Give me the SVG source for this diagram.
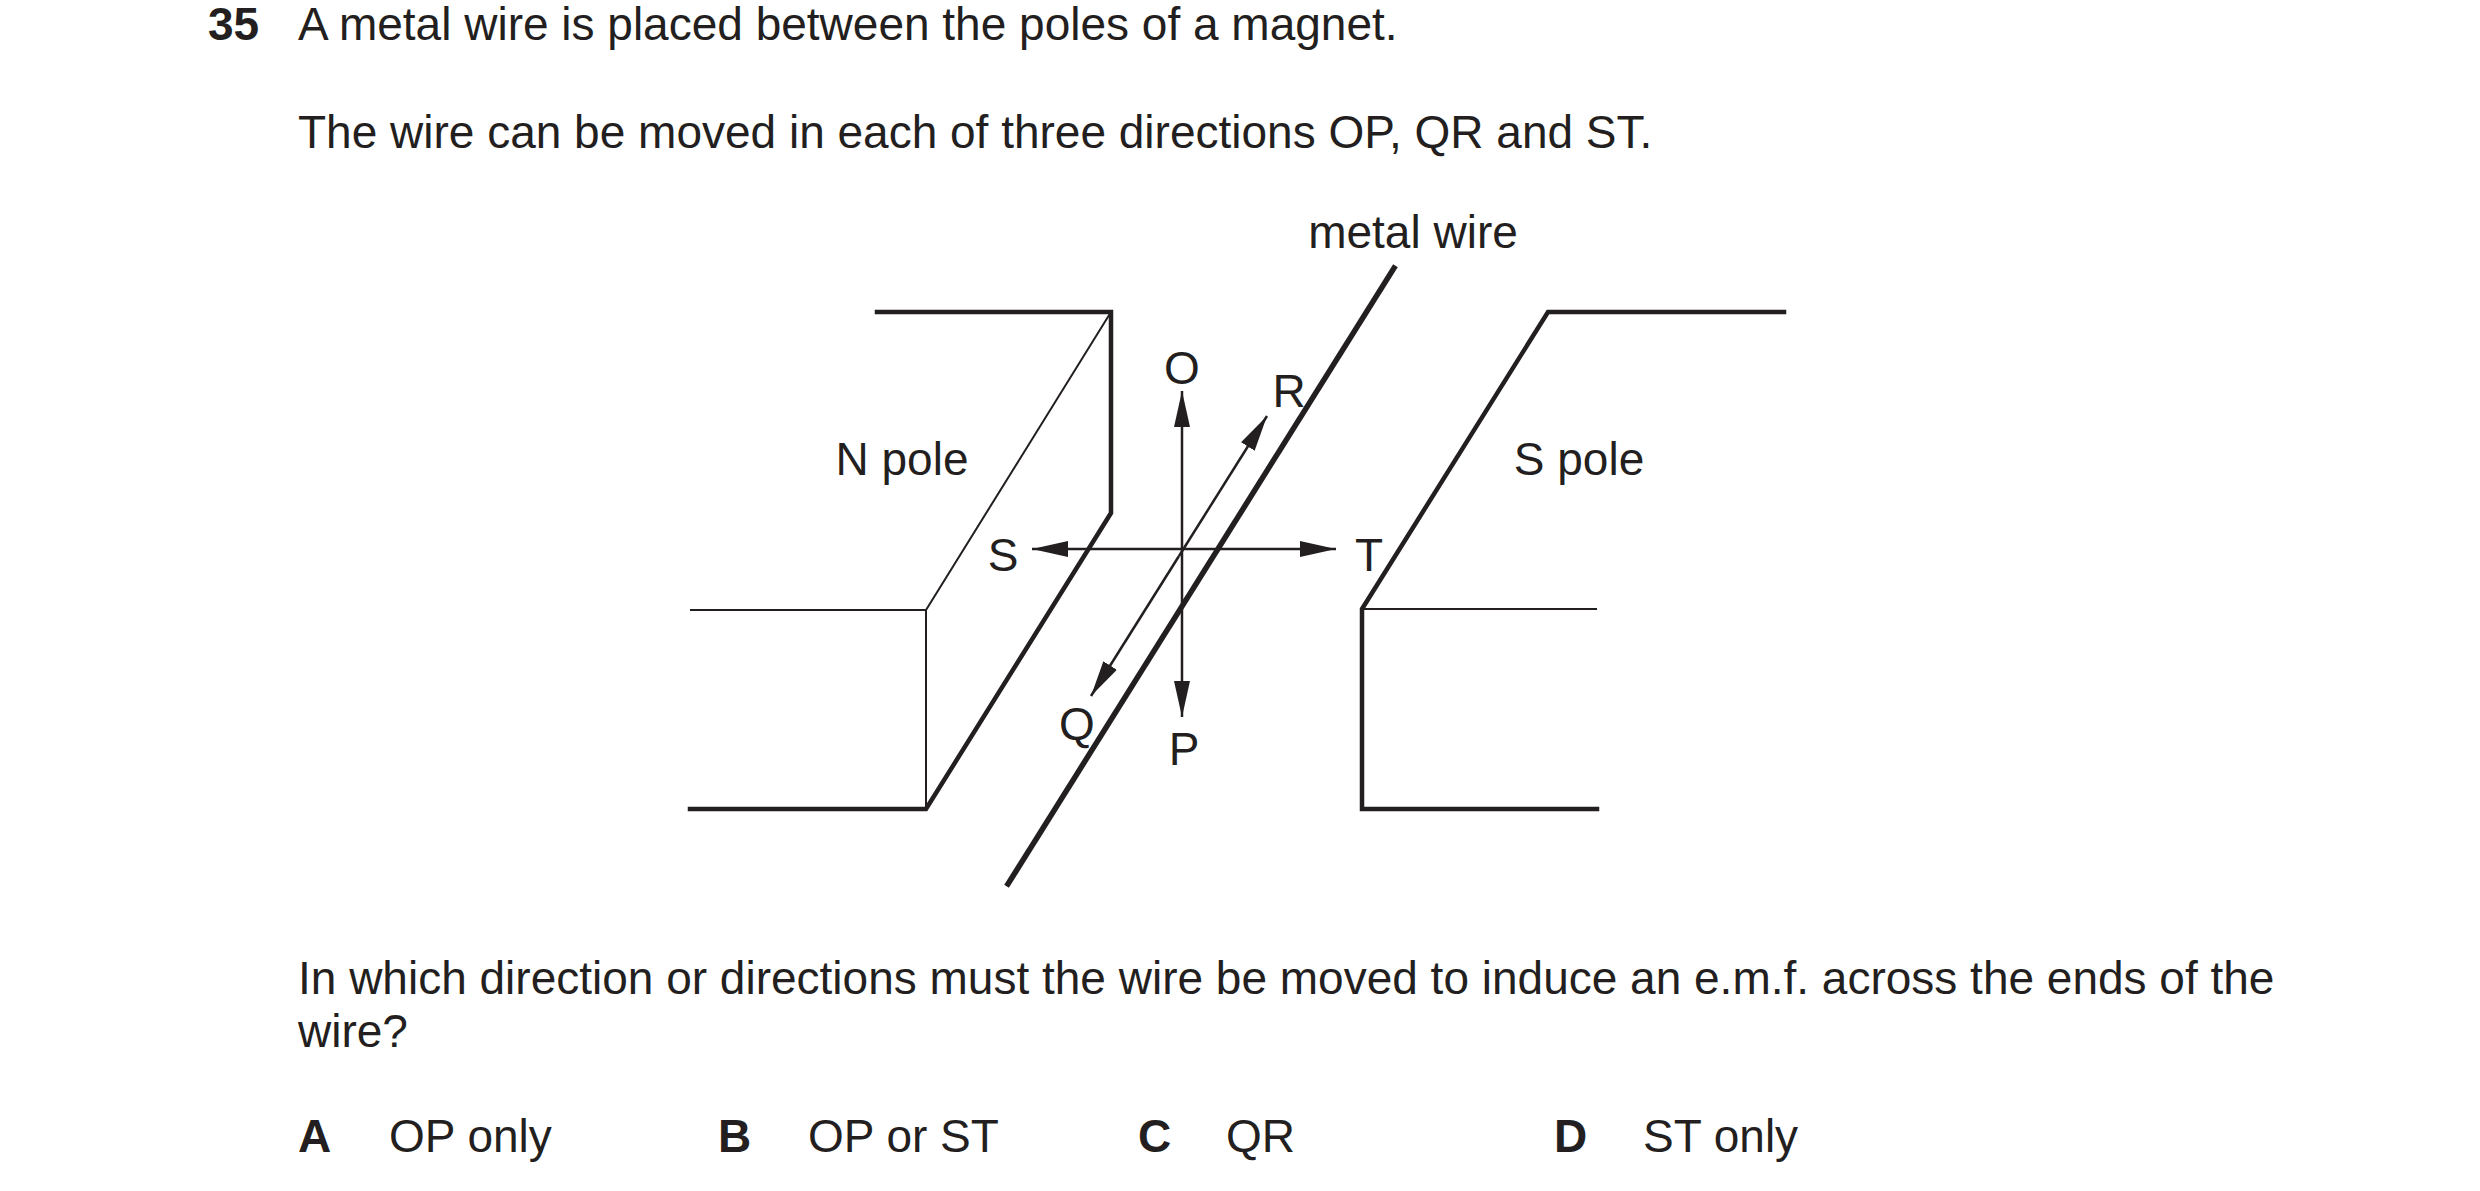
<svg xmlns="http://www.w3.org/2000/svg" width="2480" height="1191" viewBox="0 0 2480 1191">
<style>
text{font-family:"Liberation Sans",Arial,sans-serif;font-size:46px;fill:#231f20}
.b{font-weight:bold}
.lbl{font-size:46px}
.thick{stroke:#231f20;stroke-width:4.5;fill:none;stroke-linecap:square}
.thin{stroke:#231f20;stroke-width:2;fill:none}
.arr{stroke:#231f20;stroke-width:2.5;fill:none;marker-end:url(#ah)}
</style>
<defs>
<marker id="ah" markerUnits="userSpaceOnUse" markerWidth="36" markerHeight="20" viewBox="0 0 36 20" refX="36" refY="10" orient="auto">
<path d="M0,2 L36,10 L0,18 Z" fill="#231f20"/>
</marker>
</defs>
<rect width="2480" height="1191" fill="#fff"/>
<text class="b" x="208" y="40">35</text>
<text x="298" y="40">A metal wire is placed between the poles of a magnet.</text>
<text x="298" y="148">The wire can be moved in each of three directions OP, QR and ST.</text>
<g transform="translate(-3,-6)">
<g id="n-magnet">
<path class="thick" d="M880,318 L1114,318 L1114,519 L929,815 L693,815"/>
<path class="thin" d="M1114,318 L929,616 L693,616 M929,616 L929,815"/>
<text class="lbl" x="905" y="481" text-anchor="middle">N pole</text>
</g>
<g id="s-magnet" transform="translate(-10,0)">
<path class="thick" d="M1797,318 L1561,318 L1375,615 L1375,815 L1610,815"/>
<path class="thin" d="M1375,615 L1610,615"/>
<text class="lbl" x="1592" y="481" text-anchor="middle">S pole</text>
</g>
<g id="wire">
<line class="thick" x1="1397" y1="274" x2="1011" y2="890" style="stroke-width:5.5"/>
<text class="lbl" x="1416" y="254" text-anchor="middle">metal wire</text>
</g>
<g id="connectors">
<line class="arr" x1="1185" y1="555" x2="1185" y2="397"/>
<line class="arr" x1="1185" y1="555" x2="1185" y2="723"/>
<line class="arr" x1="1185" y1="555" x2="1035" y2="555"/>
<line class="arr" x1="1185" y1="555" x2="1339" y2="555"/>
<line class="arr" x1="1182" y1="562" x2="1270" y2="422"/>
<line class="arr" x1="1182" y1="562" x2="1094" y2="702"/>
</g>
<g id="labels">
<text class="lbl" x="1185" y="390" text-anchor="middle">O</text>
<text class="lbl" x="1292" y="413" text-anchor="middle">R</text>
<text class="lbl" x="1006" y="577" text-anchor="middle">S</text>
<text class="lbl" x="1372" y="577" text-anchor="middle">T</text>
<text class="lbl" x="1080" y="746" text-anchor="middle">Q</text>
<text class="lbl" x="1187" y="771" text-anchor="middle">P</text>
</g>
</g>
<text x="298" y="994">In which direction or directions must the wire be moved to induce an e.m.f. across the ends of the</text>
<text x="298" y="1047">wire?</text>
<text class="b" x="298" y="1152">A</text><text x="389" y="1152">OP only</text>
<text class="b" x="718" y="1152">B</text><text x="808" y="1152">OP or ST</text>
<text class="b" x="1138" y="1152">C</text><text x="1226" y="1152">QR</text>
<text class="b" x="1554" y="1152">D</text><text x="1643" y="1152">ST only</text>
</svg>
